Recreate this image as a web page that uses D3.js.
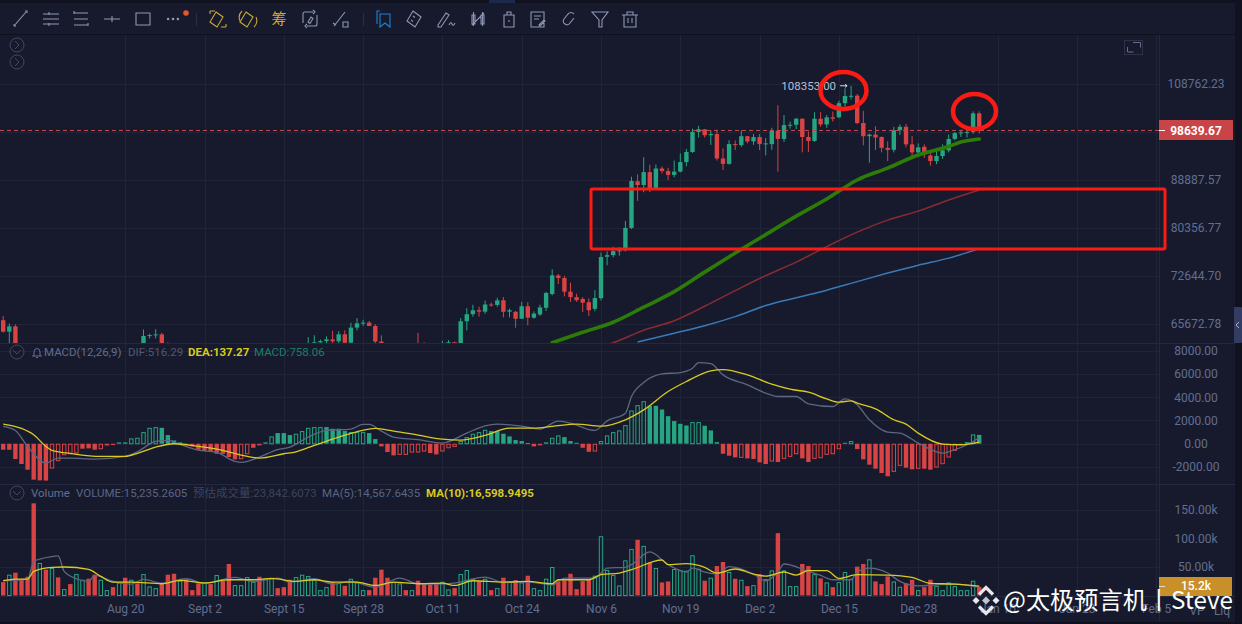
<!DOCTYPE html>
<html>
<head>
<meta charset="utf-8">
<script src="https://cdn.jsdelivr.net/npm/d3@7"></script>
<style>
  html, body { margin: 0; padding: 0; background: #161a2c; overflow: hidden; }
  svg { display: block; font-family: Roboto, "Noto Sans CJK SC", sans-serif; }
  .axis .domain, .axis line { display: none; }
  .axis text { fill: #626e90; font-size: 12px; font-family: Roboto, sans-serif; }
</style>
</head>
<body>
<div id="chart"></div>
<script>
// daily candles, index 0 = Jul 31
const opens = [66200,64620,65350,61490,60700,58160,53990,56030,55120,61700,
  60880,60950,58720,59350,60600,58740,57560,58880,59470,58440,
  59490,59010,61160,60380,64040,64160,64260,62880,59500,59030,
  59370,59120,58970,57300,59130,57480,57970,56180,53960,54160,
  54870,57050,57640,57350,58130,60500,60000,59190,58210,60310,
  61760,62950,63190,63350,63580,63330,64260,63140,65180,65770,
  65860,65400,63300,60800,60650,60750,62090,62050,62820,62220,
  62130,60580,60270,62450,63200,62850,66050,67040,67610,67400,
  68420,68360,69030,67400,67380,66400,68170,66550,67000,67950,
  69950,72730,72340,70290,69490,69230,68750,67800,69340,75640,
  75900,76540,76680,80370,88650,87950,90370,87270,91060,90580,
  89850,90460,92300,94280,98350,98880,97670,97900,93000,91950,
  95860,95650,97460,96400,97280,95860,95840,98600,96900,99750,
  99830,101100,97300,96500,101100,99900,101400,101420,104460,106060,
  106130,100200,97460,97800,97300,95100,94700,98700,99400,95800,
  94200,95300,93600,92500,93480,94600,96900,98100,98230,98360,
  102250];
const highs = [66800,65730,65600,61800,61000,58300,57000,57700,62700,61800,
  61400,61800,60700,61500,61800,59800,59800,60200,60200,59600,
  61400,61800,61400,64920,64350,64950,64480,63200,60200,60200,
  59800,59400,59800,59800,59800,58500,58300,56400,55000,55300,
  58100,58000,58000,58600,61500,61000,60700,59800,61300,61800,
  63880,64130,63550,64000,64740,64700,64800,65840,66500,66260,
  66080,65650,64130,62300,61500,62400,62400,62950,64470,63200,
  62500,61300,63400,63480,63270,66500,67880,68380,68100,69000,
  68700,69400,69500,67830,67500,68800,68750,67450,68400,70260,
  73660,72960,72680,71630,70000,69480,69300,70510,76330,76500,
  77250,77200,81580,89500,89940,93260,91800,91850,91450,91200,
  92600,94000,94850,99000,99600,98950,98700,98800,94980,96650,
  96600,98700,97500,97900,97900,97080,99200,104000,101900,100500,
  101300,101200,98400,102500,102500,101900,102650,105000,107780,108353,
  106500,102800,98000,99500,97400,96400,99400,99900,100000,97500,
  96000,95800,94100,95100,95800,97800,98300,98800,98800,102700,
  102700];
const lows = [64500,62300,61100,60000,57200,49000,53950,54600,54700,59700,
  60400,58400,57600,58500,58500,56100,57000,58800,58400,57800,
  58600,58800,59800,60340,63700,63700,62800,58100,57900,58700,
  57800,58700,57200,57100,57100,55600,55600,52500,52600,53700,
  54600,56400,56200,57300,57800,59500,58500,57500,57600,59200,
  59900,62300,62800,62400,62700,62700,62700,62700,64800,65420,
  65400,62900,60200,59980,59800,60450,61700,61700,62130,61860,
  60300,58900,60050,62450,62050,62440,64800,66700,66700,67100,
  68100,68100,66600,66580,65170,66380,65500,66400,66800,67500,
  69750,71430,69600,68800,68800,67370,66800,67450,69000,74300,
  75550,75800,76500,80200,85070,86630,86670,87100,90100,88900,
  89400,90350,91500,94100,97200,97200,95700,92600,90770,91800,
  94660,95300,96000,95700,94660,93600,94700,90450,96300,99000,
  98900,94200,94300,96300,99400,99200,100500,101200,103700,105300,
  99950,95600,92170,94700,94200,92500,94200,97700,95200,93500,
  93800,93100,91600,91900,92900,94200,96600,97300,97200,97900,
  98000];
const closes = [64620,65350,61490,60700,58160,53990,56030,55120,61700,60880,
  60950,58720,59350,60600,58740,57560,58880,59470,58440,59490,
  59010,61160,60380,64040,64160,64260,62880,59500,59030,59370,
  59120,58970,57300,59130,57480,57970,56180,53960,54160,54870,
  57050,57640,57350,58130,60500,60000,59190,58210,60310,61760,
  62950,63190,63350,63580,63330,64260,63140,65180,65770,65860,
  65400,63300,60800,60650,60750,62090,62050,62820,62220,62130,
  60580,60270,62450,63200,62850,66050,67040,67600,67400,68420,
  68360,69030,67380,67600,66400,68170,66550,67130,68000,70100,
  72750,72340,70290,69490,69040,68680,67600,69350,75600,75900,
  76540,76680,80370,88700,87950,90370,87270,91060,90580,89850,
  90460,92300,94280,98350,98880,97670,97900,93000,91950,95860,
  95650,97460,96400,97280,95860,96000,98600,96900,99770,99830,
  101100,97300,96500,101100,99900,101400,101100,104460,106060,106100,
  100200,97450,97800,97200,95100,94700,98700,99400,95800,94200,
  95200,94150,92500,93500,94600,96900,98100,98230,98300,102250,
  98639.67];
const priceHigh = 108353;
const lastPrice = 98639.67;

// moving averages on the price pane, read at these candle indexes
const ma50Days = [90,95,100,105,110,115,120,125,130,135,140,145,150,155,157,160];
const ma50Vals = [63140,64540,65920,68030,70290,73240,76230,79250,82390,85400,88890,91150,93670,95380,96260,96880];
const ma100Days = [98,100,105,110,115,120,125,130,135,140,145,150,155,160];
const ma100Vals = [62670,63140,64820,66120,68170,70440,72700,74800,77280,79670,81700,83260,85220,87030];
const ma200Days = [104,110,115,120,125,130,135,140,145,150,155,160];
const ma200Vals = [63240,64420,65440,66700,68270,69400,70510,71790,73090,74320,75430,76950];

const macdHist = [-515,-520,-1315,-1745,-2230,-3090,-3150,-3170,-2090,-1460,
  -950,-860,-800,-430,-400,-515,-430,-150,-110,115,
  115,460,515,1000,1370,1430,1370,745,285,115,
  -85,-230,-515,-630,-640,-860,-870,-1145,-1345,-1290,
  -860,-345,-140,115,630,915,915,745,860,1090,
  1370,1430,1430,1430,1290,1290,1090,1000,1000,1000,
  915,400,-230,-715,-1000,-915,-915,-715,-715,-630,
  -800,-915,-630,-345,-230,230,570,860,1000,1200,
  1090,1090,860,630,315,230,60,-230,-140,115,
  515,715,570,230,85,-345,-690,-630,230,715,
  1000,1145,1600,2860,3320,3660,3260,3260,2945,2370,
  1945,1715,1570,1860,1860,1545,1145,140,-860,-1030,
  -1170,-1170,-1260,-1315,-1600,-1745,-1490,-1570,-1260,-1085,
  -860,-1260,-1570,-1260,-1200,-915,-860,-430,85,230,
  -460,-1345,-1800,-2145,-2515,-2800,-2375,-1860,-2060,-2200,
  -2115,-2145,-2230,-2000,-1715,-1145,-570,-115,140,800,
  758.06];
// histogram bars that are drawn as outlines only
const macdHollow = [8,9,10,11,12,16,21,22,23,24,25,39,40,44,48,49,50,51,52,57,58,59,
  65,66,67,68,69,72,73,74,75,76,77,78,79,90,91,97,98,99,100,101,102,103,104,105,
  113,114,121,126,128,129,130,133,134,135,136,137,139,146,147,150,153,154,155,156,159];

const deaDays = [0,3,5,7,8,11,16,20,22,25,28,32,36,39,42,46,48,51,54,57,60,61,64,68,72,75,
  79,83,87,90,94,98,102,105,109,112,116,118,122,126,129,132,135,137,139,140,143,146,148,150,154,157,160];
const deaVals = [1690,1315,770,-230,-570,-830,-1090,-1090,-830,-290,0,-230,-570,-970,-1230,-860,-690,-140,400,890,1260,1315,1090,745,400,315,
  715,1345,1345,1490,1690,1515,2060,2915,4490,5350,6260,6380,5920,5120,4690,4430,3860,3575,3690,3490,3000,2060,1690,915,-30,-85,137.27];
const difDays = [0,2,4,7,9,11,15,20,22,25,27,29,32,35,38,39,42,45,47,50,53,57,59,60,62,64,68,72,
  76,79,81,85,88,91,93,97,99,102,103,105,108,111,113,114,116,118,122,125,127,130,132,136,138,140,142,145,147,150,154,156,158,160];
const difVals = [1490,1145,-230,-1660,-1230,-1230,-1315,-1090,-690,200,290,-60,-545,-745,-1515,-1600,-1145,-515,-290,570,1145,1260,1660,1660,1090,570,345,60,
  915,1545,1690,1515,1260,1945,1770,1145,1970,2630,4060,5260,6000,6120,6490,6980,6890,5920,5060,4350,4060,4060,3430,3200,3860,3350,2060,1000,915,60,-800,-515,-85,516.29];

const volumes = [23500,36500,40000,28800,32900,161700,57000,45300,48200,31750,
  11200,20000,37600,27600,29400,36500,27600,9400,14700,22900,
  31200,27600,21200,37600,15900,12900,20600,36500,38200,25900,
  28200,9400,21200,21800,20000,35900,25900,55300,18200,18200,
  32300,24100,32900,29400,30000,12900,14700,27600,32300,36500,
  34100,27600,9400,14700,23500,21800,17000,29400,22900,9400,
  9400,31200,45300,31200,23500,21200,9400,9400,25900,20600,
  20600,21800,24100,10600,12900,37600,44700,29400,25300,29400,
  9400,12900,31200,24700,27000,22900,34700,12900,9400,29400,
  50000,24700,26500,38200,11200,25300,28800,34700,104000,44700,
  35900,17600,61700,81700,97600,87000,57600,48200,22900,24700,
  46500,44700,43500,70600,47000,25900,31200,51700,58800,41200,
  29400,27600,16500,18200,37600,28800,44100,109400,44100,16500,
  16500,55300,51700,37600,30000,22900,14700,23500,41200,29400,
  50600,55300,63500,24700,20000,33500,24700,15300,21200,27600,
  9400,14700,27600,17000,9400,22900,16500,9400,9400,25900,
  15235.26];
const volMa5Days = [0,4,5,8,9,10,12,14,15,18,21,23,26,30,33,38,41,45,47,51,54,57,61,65,68,71,74,79,82,86,90,92,97,99,102,103,106,109,112,113,115,117,119,123,125,127,128,132,134,136,139,140,142,145,147,150,153,156,160];
const volMa5Vals = [25900,28800,60000,68200,69400,42300,29400,24700,35300,24700,20000,28200,21800,29400,21200,31800,24700,30600,23500,29400,20000,24700,14100,30600,20600,20000,21800,32300,22900,23500,18800,30600,30600,48200,49400,54100,76400,54100,41200,48200,41200,37600,50600,37600,25900,41200,55300,42300,35300,27600,27600,41200,48200,39400,24700,17000,18800,20000,14567.64];
const volMa10Days = [0,2,4,5,8,10,14,16,18,21,26,29,33,37,41,44,48,51,54,58,61,64,68,72,74,77,82,86,90,91,96,98,101,103,108,109,112,115,117,120,123,125,128,130,132,135,137,140,145,149,152,156,160];
const volMa10Vals = [25900,28800,28800,42300,49400,50000,45900,33500,23500,23500,20600,26500,22300,27600,27600,30000,24700,27600,23500,23500,17600,23500,20600,21800,17600,25900,23500,24700,20600,27600,27600,36500,39400,45300,62300,54100,55900,49400,39400,46500,37600,34100,41200,35900,43500,43500,30000,36500,35900,31800,21200,20000,16598.95];

const priceTicks = [108762.23, 88887.57, 80356.77, 72644.70, 65672.78];
const priceGrid = [108762.23, 98335, 88887.57, 80356.77, 72644.70, 65672.78];
const macdTicks = [8000, 6000, 4000, 2000, 0, -2000];
const volTicks = [150000, 100000, 50000];
const dateDays = [20,33,46,59,72,85,98,111,124,137,150,163,176,189];
const dateLabels = ["Aug 20","Sept 2","Sept 15","Sept 28","Oct 11","Oct 24","Nov 6","Nov 19","Dec 2","Dec 15","Dec 28","Jan 10","Jan 23","Feb 5"];

const width = 1242, height = 624;
const green = "#26a583", red = "#d94343", yellow = "#d9cb1f", gray = "#5d6782", bg = "#161a2c", grid = "#1f2437";

const svg = d3.select("#chart").append("svg").attr("width", width).attr("height", height);
svg.append("rect").attr("width", width).attr("height", height).attr("fill", bg);

// scales
const x = d3.scaleLinear().domain([0, 160]).range([3.2, 979.2]);
const yPrice = d3.scaleLog().domain([65672.78, 108762.23]).range([324, 84]);
const yMacd = d3.scaleLinear().domain([-2000, 8000]).range([467, 350.7]);
const yVol = d3.scaleLinear().domain([0, 150000]).range([595.5, 510]);
const barW = 4.4;

// grid
const gridG = svg.append("g").attr("stroke", grid).attr("stroke-width", 1);
const hLines = [...priceGrid.map(yPrice), ...macdTicks.map(yMacd), ...volTicks.map(yVol)];
gridG.selectAll("line.h").data(hLines).enter().append("line").attr("class", "h")
  .attr("x1", 0).attr("x2", 1159).attr("y1", d => Math.round(d) + .5).attr("y2", d => Math.round(d) + .5);
gridG.selectAll("line.v").data(dateDays).enter().append("line").attr("class", "v")
  .attr("x1", d => Math.round(x(d)) + .5).attr("x2", d => Math.round(x(d)) + .5).attr("y1", 35).attr("y2", 597);
[343.5, 484.5, 596.5].forEach(y => gridG.append("line").attr("x1", 0).attr("x2", 1235).attr("y1", y).attr("y2", y).attr("stroke", "#232840"));
gridG.append("line").attr("x1", 1159.5).attr("x2", 1159.5).attr("y1", 35).attr("y2", 621).attr("stroke", "#232840");

// price pane
svg.append("clipPath").attr("id", "mainClip").append("rect").attr("x", 0).attr("y", 35).attr("width", 1159).attr("height", 308);
const main = svg.append("g").attr("clip-path", "url(#mainClip)");

const maLine = (days, vals, sc) => d3.line().x(i => x(days[i])).y(i => sc(vals[i])).curve(d3.curveMonotoneX)(d3.range(days.length));

main.append("path").attr("d", maLine(ma200Days, ma200Vals, yPrice)).attr("fill", "none").attr("stroke", "#3a7ab8").attr("stroke-width", 1.5);
main.append("path").attr("d", maLine(ma100Days, ma100Vals, yPrice)).attr("fill", "none").attr("stroke", "#8c2a31").attr("stroke-width", 1.5);

const candle = main.selectAll("g.candle").data(d3.range(opens.length)).enter().append("g");
candle.append("line")
  .attr("x1", i => x(i)).attr("x2", i => x(i))
  .attr("y1", i => yPrice(highs[i])).attr("y2", i => yPrice(lows[i]))
  .attr("stroke", i => closes[i] >= opens[i] ? green : red).attr("stroke-width", 1);
candle.append("rect")
  .attr("x", i => x(i) - barW / 2).attr("width", barW)
  .attr("y", i => yPrice(Math.max(opens[i], closes[i])))
  .attr("height", i => Math.max(1, Math.abs(yPrice(opens[i]) - yPrice(closes[i]))))
  .attr("fill", i => closes[i] >= opens[i] ? green : red);

main.append("path").attr("d", maLine(ma50Days, ma50Vals, yPrice)).attr("fill", "none").attr("stroke", "#2d7c07").attr("stroke-width", 3.6).attr("stroke-linecap", "round");

// last price line
svg.append("line").attr("x1", 0).attr("x2", 1159).attr("y1", yPrice(lastPrice)).attr("y2", yPrice(lastPrice))
  .attr("stroke", "#c64a4c").attr("stroke-width", 1).attr("stroke-dasharray", "4,3");

// highest price marker
const hiX = x(139), hiY = yPrice(priceHigh);
svg.append("text").attr("x", hiX - 15).attr("y", hiY).attr("dy", "0.35em").attr("text-anchor", "end")
  .attr("fill", "#b6bfd9").attr("font-size", 11.5).text(priceHigh.toFixed(2));
svg.append("path").attr("d", `M${hiX - 11},${hiY}h7m-2,-1.5l2,1.5l-2,1.5`).attr("fill", "none").attr("stroke", "#d5daea").attr("stroke-width", 1);

// macd pane
const macdBars = svg.append("g");
macdBars.selectAll("rect").data(d3.range(macdHist.length)).enter().append("rect")
  .each(function(i) {
    const hollow = macdHollow.includes(i);
    const c = macdHist[i] >= 0 ? green : red;
    const y0 = yMacd(Math.max(macdHist[i], 0)), y1 = yMacd(Math.min(macdHist[i], 0));
    const inset = hollow ? .5 : 0;
    d3.select(this)
      .attr("x", x(i) - barW / 2 + inset).attr("width", barW - inset * 2)
      .attr("y", y0 + inset).attr("height", Math.max(1, y1 - y0 - inset))
      .attr("fill", hollow ? "none" : c)
      .attr("stroke", hollow ? c : "none").attr("stroke-width", hollow ? 1 : 0);
  });
svg.append("path").attr("d", maLine(difDays, difVals, yMacd)).attr("fill", "none").attr("stroke", gray).attr("stroke-width", 1.3);
svg.append("path").attr("d", maLine(deaDays, deaVals, yMacd)).attr("fill", "none").attr("stroke", yellow).attr("stroke-width", 1.3);

// volume pane
svg.append("g").selectAll("rect").data(d3.range(volumes.length)).enter().append("rect")
  .each(function(i) {
    const up = closes[i] >= opens[i];
    const inset = up ? .5 : 0;
    d3.select(this)
      .attr("x", x(i) - barW / 2 + inset).attr("width", barW - inset * 2)
      .attr("y", yVol(volumes[i]) + inset).attr("height", yVol(0) - yVol(volumes[i]) - inset)
      .attr("fill", up ? "none" : red)
      .attr("stroke", up ? green : "none").attr("stroke-width", up ? 1 : 0);
  });
svg.append("path").attr("d", maLine(volMa5Days, volMa5Vals, yVol)).attr("fill", "none").attr("stroke", gray).attr("stroke-width", 1.3);
svg.append("path").attr("d", maLine(volMa10Days, volMa10Vals, yVol)).attr("fill", "none").attr("stroke", yellow).attr("stroke-width", 1.3);

// axes
const rightAxis = (sc, ticks, fmt) => g => {
  g.attr("class", "axis").attr("transform", "translate(1196,0)")
    .call(d3.axisRight(sc).tickValues(ticks).tickFormat(fmt).tickSize(0).tickPadding(0));
  g.selectAll("text").attr("text-anchor", "middle");
};
svg.append("g").call(rightAxis(yPrice, priceTicks, d3.format(".2f")));
svg.append("g").call(rightAxis(yMacd, macdTicks, d => d.toFixed(2).replace("\u2212", "-")));
svg.append("g").call(rightAxis(yVol, volTicks, d => (d / 1000).toFixed(2) + "k"));

const dateAxis = d3.axisBottom(x).tickValues(dateDays).tickFormat((d, i) => dateLabels[i]).tickSize(0).tickPadding(0);
svg.append("g").attr("class", "axis").attr("transform", "translate(0,604)").call(dateAxis);
svg.selectAll(".axis text").attr("font-size", 12);
svg.append("text").attr("x", 1197).attr("y", 615).attr("text-anchor", "middle").attr("fill", "#626e90").attr("font-size", 12).text("VP");
svg.append("text").attr("x", 1222).attr("y", 615).attr("text-anchor", "middle").attr("fill", "#626e90").attr("font-size", 12).text("Liq");

// price tags
svg.append("rect").attr("x", 1159).attr("y", 120).attr("width", 74).attr("height", 20).attr("fill", "#c94446");
svg.append("line").attr("x1", 1159).attr("x2", 1165).attr("y1", 130.5).attr("y2", 130.5).attr("stroke", "#fff");
svg.append("text").attr("x", 1196).attr("y", 130.5).attr("dy", "0.35em").attr("text-anchor", "middle")
  .attr("fill", "#fff").attr("font-weight", 700).attr("font-size", 12).text(lastPrice.toFixed(2));
svg.append("rect").attr("x", 1159).attr("y", 577).attr("width", 73).attr("height", 19).attr("fill", "#c98f28");
svg.append("line").attr("x1", 1159).attr("x2", 1165).attr("y1", 586.5).attr("y2", 586.5).attr("stroke", "#e8dcc0");
svg.append("text").attr("x", 1196).attr("y", 586).attr("dy", "0.35em").attr("text-anchor", "middle")
  .attr("fill", "#fff").attr("font-weight", 500).attr("font-size", 12).text("15.2k");

// pane titles
const label = (tx, ty, txt, col, bold) => svg.append("text").attr("x", tx).attr("y", ty).attr("dy", "0.35em")
  .attr("fill", col).attr("font-size", 11.5).attr("font-weight", bold ? 700 : 400).text(txt);
label(44, 352, "MACD(12,26,9)", "#626e90");
label(128, 352, "DIF:516.29", "#4f5873");
label(188, 352, "DEA:137.27", yellow, true);
label(254, 352, "MACD:758.06", "#1c7f69");
label(31, 493, "Volume", "#626e90");
label(76, 493, "VOLUME:15,235.2605", "#5a6585");
label(193, 493, "预估成交量:23,842.6073", "#3d445c");
label(322, 493, "MA(5):14,567.6435", "#5a6585");
label(426, 493, "MA(10):16,598.9495", yellow, true);

// small round chevron buttons
const chevron = (cx, cy, down) => {
  const g = svg.append("g").attr("fill", "none").attr("stroke", "#414860").attr("stroke-width", 1);
  g.append("circle").attr("cx", cx).attr("cy", cy).attr("r", 7);
  g.append("path").attr("d", down ? `M${cx - 4},${cy - 2}l4,4l4,-4` : `M${cx - 2},${cy - 4}l4,4l-4,4`);
};
chevron(17, 45); chevron(17, 62); chevron(17, 352, true); chevron(17, 493, true);
svg.append("path").attr("d", "M32,356h10m-8,0v-4a3,3.5 0 0 1 6,0v4m-4,1.5h2").attr("fill", "none").attr("stroke", "#626e90");

// expand button
svg.append("rect").attr("x", 1124.5).attr("y", 40.5).attr("width", 18).attr("height", 14).attr("fill", "none").attr("stroke", "#2c324a");
svg.append("path").attr("d", "M1133,42.5h7.5v5M1127.5,47v5h6").attr("fill", "none").attr("stroke", "#666e8a");

// toolbar
svg.append("rect").attr("width", width).attr("height", 3).attr("fill", "#10131f");
svg.append("rect").attr("x", 489).attr("width", 26).attr("height", 3).attr("fill", "#1b2a4a");
svg.append("line").attr("x1", 0).attr("x2", width).attr("y1", 34.5).attr("y2", 34.5).attr("stroke", "#0e111d");
const iconCol = "#9097b5", gold = "#c9a73a";
const icons = [
  [20, iconCol, "M-6,7L6,-7M-7,6h2v2M5,-8h2v2"],
  [51, iconCol, "M-8,-5h16M-8,0h16M-8,5h16M-2,-7v3M-2,4v3"],
  [81, iconCol, "M-7,-6h14M-7,0h14M-7,6h14M-7,-8v3M7,4v3"],
  [112, iconCol, "M-8,0h16M0,-3v6"],
  [143, iconCol, "M-7,-6h14v12h-14z"],
  [218, gold, "M-2,-7l7,5l-6,10l-7,-5zM-8,-8h5M8,8h-5M-8,-8v3M8,8v-3"],
  [248, gold, "M-2,-7l7,5l-6,10l-7,-5zM-6,-8a9,9 0 0 0 -2,10M6,8a9,9 0 0 0 2,-10"],
  [310, iconCol, "M-7,4v-9q0,-2 2,-2h8M7,-4v9q0,2 -2,2h-8M3,-9l2,2l-2,2M-3,9l-2,-2l2,-2M-2,3l3,-5l2,1.5l-3,5z"],
  [341, iconCol, "M-7,7L4,-7M-8,4l3,2M2,3h5v5h-5z"],
  [385, "#1d82d6", "M-5,-8h-3v13M-5,-5h10v13l-5,-4l-5,4z"],
  [415, iconCol, "M-2,-8l8,6l-6,10l-8,-6zM-2,-3l2,1.5M-4,1l2,1.5"],
  [446, iconCol, "M-8,6l8,-12l3,2l-8,12h-3zM3,6q2,-4 3,-1t3,-1"],
  [478, iconCol, "M-6,-4h3v9h-3zM3,-4h3v9h-3zM-4.5,-7v14M4.5,-7v14M-6,6l12,-12"],
  [509, iconCol, "M-5,-4h10v12h-10zM-2,-4v-3h4v3M0,1v2"],
  [538, iconCol, "M-7,-7h13v15h-13zM-4,-3h7M-4,0h5M1,6l5,-5l1,1l-5,5z"],
  [569, iconCol, "M5,-5q-3,-3 -6,0l-4,5q-2,3 1,5q3,2 5,-1l4,-5"],
  [600, iconCol, "M-8,-7h16l-6,8v7h-3v-7z"],
  [630, iconCol, "M-6,-4h12v12h-12zM-8,-4h16M-3,-4v-3h6v3M-2,-1v5M2,-1v5"]
];
svg.append("g").selectAll("path").data(icons).enter().append("path")
  .attr("transform", d => `translate(${d[0]},19)`).attr("d", d => d[2])
  .attr("fill", "none").attr("stroke", d => d[1]).attr("stroke-width", 1.1);
svg.append("g").attr("fill", iconCol).selectAll("circle").data([-3.5, 0, 3.5]).enter().append("circle")
  .attr("cx", d => 173 + d * 1.4).attr("cy", 19).attr("r", 1.3);
svg.append("circle").attr("cx", 186).attr("cy", 13).attr("r", 2.8).attr("fill", "#e4572e");
svg.append("text").attr("x", 279).attr("y", 19).attr("dy", "0.36em").attr("text-anchor", "middle").attr("fill", "#d4a82c").attr("font-size", 15).text("筹");
[196.5, 363.5].forEach(sx => svg.append("line").attr("x1", sx).attr("x2", sx).attr("y1", 13).attr("y2", 26).attr("stroke", "#2a2f45"));

// right side strip
svg.append("rect").attr("x", 1235).attr("y", 3).attr("width", 7).attr("height", height).attr("fill", "#10131f");
svg.append("rect").attr("x", 1234).attr("y", 307).attr("width", 8).attr("height", 36).attr("rx", 1).attr("fill", "#333d63");
svg.append("path").attr("d", "M1239,322l-3,3l3,3").attr("fill", "none").attr("stroke", "#aab2cc");
svg.append("rect").attr("y", 622).attr("width", width).attr("height", 2).attr("fill", "#0e111d");

// red markups drawn on the screenshot
const markup = "#fb1b14";
svg.append("rect").attr("x", 591).attr("y", 189).attr("width", 574).attr("height", 60).attr("rx", 1.5)
  .attr("fill", "none").attr("stroke", markup).attr("stroke-width", 3);
svg.append("ellipse").attr("cx", 843.5).attr("cy", 90.5).attr("rx", 23).attr("ry", 18.5)
  .attr("fill", "none").attr("stroke", markup).attr("stroke-width", 4.5);
svg.append("ellipse").attr("cx", 974.5).attr("cy", 111.5).attr("rx", 21.5).attr("ry", 17.5)
  .attr("fill", "none").attr("stroke", markup).attr("stroke-width", 4.5);

// watermark
const wm = svg.append("g").attr("transform", "translate(986,600.5)");
wm.append("path").attr("d", "M-7,-6L0,-13L7,-6M-7,6L0,13L7,6").attr("fill", "none").attr("stroke", "#e8e8ec").attr("stroke-width", 3.2);
[[-10, 0], [10, 0]].forEach(p => {
  wm.append("path").attr("d", `M${p[0]},${p[1] - 3.5}l3.5,3.5l-3.5,3.5l-3.5,-3.5z`).attr("fill", "#e8e8ec");
});
wm.append("path").attr("d", "M0,-4l4,4l-4,4l-4,-4z").attr("fill", "#c4c5cc");
svg.append("text").attr("x", 1003).attr("y", 600.5).attr("dy", "0.36em").attr("fill", "#fff")
  .attr("font-family", "'Noto Sans CJK SC', sans-serif").attr("font-size", 24.2).text("@太极预言机丨Steve");
</script>
</body>
</html>
